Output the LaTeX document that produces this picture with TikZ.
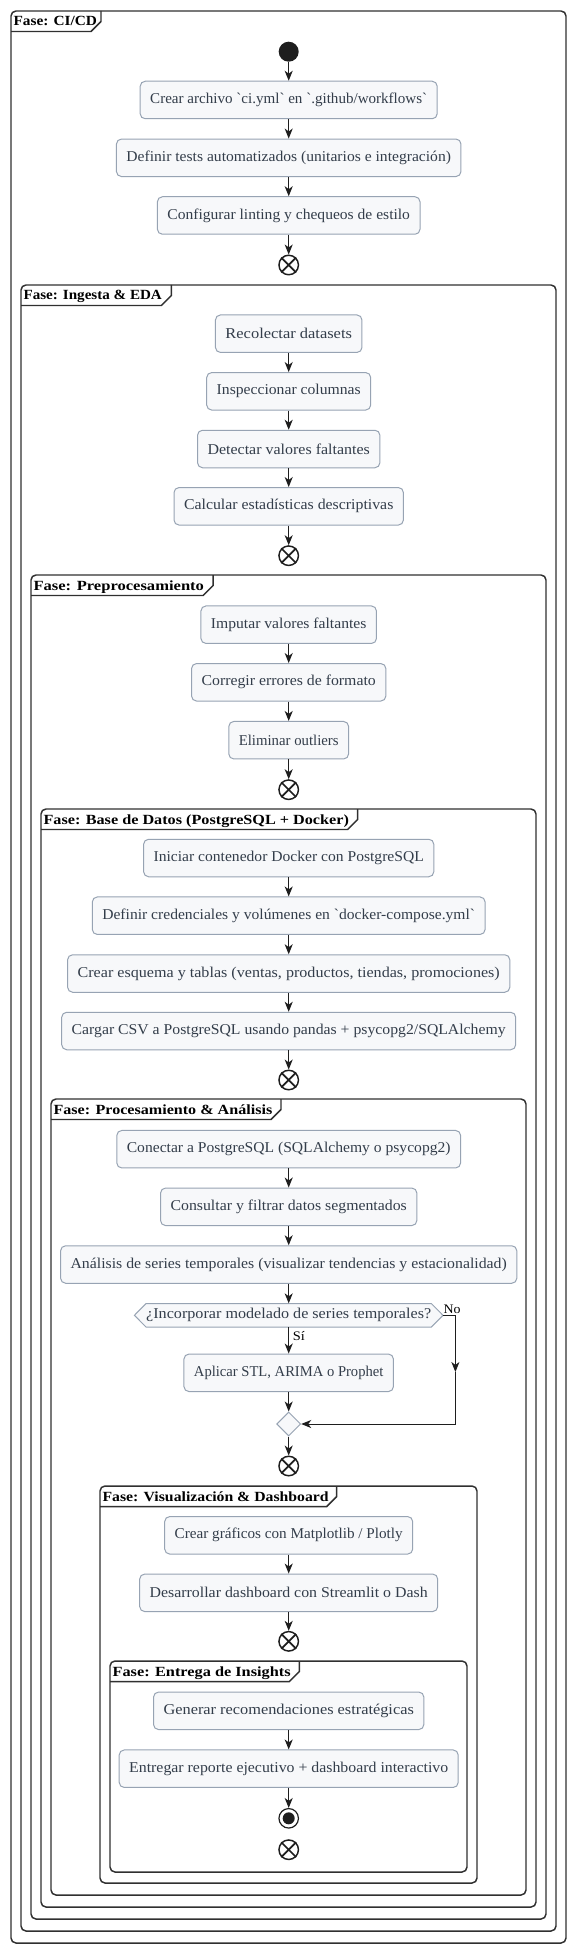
\documentclass[tikz,border=0pt]{standalone}
\usepackage{fontspec}
\setmainfont{Liberation Serif}
\usepackage{graphicx}
\usetikzlibrary{arrows.meta,shapes.geometric,calc}
\definecolor{boxfill}{HTML}{F7F8FA}
\definecolor{boxdraw}{HTML}{97A3B3}
\definecolor{txt}{HTML}{333D4A}
\definecolor{framec}{HTML}{303030}
\definecolor{ink}{HTML}{1E1E1E}
\newlength\fitlen
\newcommand\fitto[2]{\settowidth{\fitlen}{#2}\pgfmathsetmacro\fitfac{(#1)*0.75/\fitlen}\scalebox{\fitfac}[1]{#2}}
\newcommand\bq{\textasciigrave}
\tikzset{
  abox/.style={draw=boxdraw, fill=boxfill, rounded corners=3.75pt, line width=0.75pt,
    minimum height=37.5*0.75pt, inner xsep=7.5pt, inner ysep=0pt,
    font=\fontsize{11.25}{13}\selectfont, text=txt},
  flow/.style={draw=ink, line width=0.75pt, -{Stealth[length=7.5pt,width=6pt,inset=2.2pt]}},
  flowline/.style={draw=ink, line width=0.75pt},
  phaseframe/.style={draw=framec, line width=1.1pt, rounded corners=3.75pt, fill=white},
  tabline/.style={draw=framec, line width=1.1pt},
  ftitle/.style={anchor=base west, inner sep=0pt, font=\bfseries\fontsize{10.5}{12}\selectfont, text=black},
  xend/.style={circle, draw=ink, line width=1.1pt, fill=white, minimum size=19.5*0.75pt, inner sep=0pt},
  lbl/.style={inner sep=0pt, font=\fontsize{9.75}{11}\selectfont, text=black}
}
\newcommand\abox[4]{\node[abox, minimum width=#3*0.75pt] (#1) at (288.7,#2) {\fitto{#3-20}{#4}};}
\newcommand\xnode[2]{\node[xend] (#1) at (288.7,#2) {};
  \draw[ink, line width=1.3pt] (#1.45) -- (#1.225) (#1.135) -- (#1.315);}
\newcommand\phase[8]{%
  \draw[phaseframe] (#2,#3) rectangle (#4,#5);
  \draw[tabline] (#2,#3+20.5) -- (#6-10,#3+20.5) -- (#6,#3+10.5) -- (#6,#3);
  \node[ftitle] (#1) at (#2+2.3,#3+15) {\fitto{#7}{#8}};}
\begin{document}
\begin{tikzpicture}[x=0.75pt, y=-0.75pt]
\useasboundingbox[fill=white] (0,0) rectangle (577,1954);
% frames
\phase{t1}{11}{11}{566}{1943}{101}{83.4}{Fase: CI/CD}
\phase{t2}{21}{285}{556}{1931}{171.4}{138.3}{Fase: Ingesta \& EDA}
\phase{t3}{31}{575}{546}{1919}{213.1}{170.4}{Fase: Preprocesamiento}
\phase{t4}{41}{809}{536}{1907}{357.7}{305.4}{Fase: Base de Datos (PostgreSQL + Docker)}
\phase{t5}{51}{1099}{526}{1895}{281}{218.7}{Fase: Procesamiento \& Análisis}
\phase{t6}{100}{1486}{477}{1883}{336.7}{226.1}{Fase: Visualización \& Dashboard}
\phase{t7}{110}{1661}{467}{1872}{299.4}{178.1}{Fase: Entrega de Insights}
% CI/CD
\node[circle, fill=ink, minimum size=20*0.75pt, inner sep=0pt] (start) at (288.7,51.7) {};
\abox{b1}{100}{297}{Crear archivo \bq ci.yml\bq{} en \bq.github/workflows\bq}
\abox{b2}{157.8}{344.5}{Definir tests automatizados (unitarios e integración)}
\abox{b3}{215.5}{262.6}{Configurar linting y chequeos de estilo}
\xnode{x1}{265}
% Ingesta
\abox{b4}{333.7}{146.5}{Recolectar datasets}
\abox{b5}{391.3}{164}{Inspeccionar columnas}
\abox{b6}{449}{182.4}{Detectar valores faltantes}
\abox{b7}{506.3}{229.4}{Calcular estadísticas descriptivas}
\xnode{x2}{555.7}
% Preproc
\abox{b8}{624.7}{175.5}{Imputar valores faltantes}
\abox{b9}{682.3}{194.3}{Corregir errores de formato}
\abox{b10}{740.2}{119.8}{Eliminar outliers}
\xnode{x3}{789.7}
% BD
\abox{b11}{858}{290.2}{Iniciar contenedor Docker con PostgreSQL}
\abox{b12}{915.7}{392.8}{Definir credenciales y volúmenes en \bq docker-compose.yml\bq}
\abox{b13}{973.5}{442.2}{Crear esquema y tablas (ventas, productos, tiendas, promociones)}
\abox{b14}{1031}{454}{Cargar CSV a PostgreSQL usando pandas + psycopg2/SQLAlchemy}
\xnode{x4}{1080}
% Procesamiento
\abox{b15}{1149.2}{343.8}{Conectar a PostgreSQL (SQLAlchemy o psycopg2)}
\abox{b16}{1206.8}{256.3}{Consultar y filtrar datos segmentados}
\abox{b17}{1264.5}{456.2}{Análisis de series temporales (visualizar tendencias y estacionalidad)}
\draw[draw=boxdraw, fill=boxfill, line width=0.75pt]
  (134.4,1315.3) -- (146,1303.6) -- (431.4,1303.6) -- (443,1315.3) -- (431.4,1327) -- (146,1327) -- cycle;
\node[inner sep=0pt, minimum width=308.6*0.75pt, minimum height=23.4*0.75pt,
  font=\fontsize{11.25}{13}\selectfont, text=txt] (hex) at (288.7,1315.3)
  {\fitto{285}{¿Incorporar modelado de series temporales?}};
\abox{b18}{1372.8}{209.5}{Aplicar STL, ARIMA o Prophet}
\node[diamond, draw=boxdraw, fill=boxfill, minimum width=24*0.75pt, minimum height=24*0.75pt,
  inner sep=0pt, line width=0.75pt] (dia) at (288.7,1424) {};
\xnode{x5}{1466}
\node[lbl, anchor=south west] (nolab) at ($(hex.east)+(0,-1.5)$) {\fitto{17}{No}};
\node[lbl, anchor=north west] (silab) at ($(hex.south)+(4,3.5)$) {\fitto{12}{Sí}};
% Visualizacion
\abox{b19}{1535.3}{248}{Crear gráficos con Matplotlib / Plotly}
\abox{b20}{1592.8}{298}{Desarrollar dashboard con Streamlit o Dash}
\xnode{x6}{1641.3}
% Entrega
\abox{b21}{1710.8}{270.3}{Generar recomendaciones estratégicas}
\abox{b22}{1768.7}{339}{Entregar reporte ejecutivo + dashboard interactivo}
\node[circle, draw=ink, line width=0.9pt, fill=white, minimum size=19.5*0.75pt, inner sep=0pt] (stop) at (288.7,1818.3) {};
\node[circle, fill=ink, minimum size=12*0.75pt, inner sep=0pt] (stopdot) at (stop.center) {};
\xnode{x7}{1849.7}
% connectors
\draw[flow] (start) -- (b1);
\draw[flow] (b1) -- (b2);
\draw[flow] (b2) -- (b3);
\draw[flow] (b3) -- (x1);
\draw[flow] (b4) -- (b5);
\draw[flow] (b5) -- (b6);
\draw[flow] (b6) -- (b7);
\draw[flow] (b7) -- (x2);
\draw[flow] (b8) -- (b9);
\draw[flow] (b9) -- (b10);
\draw[flow] (b10) -- (x3);
\draw[flow] (b11) -- (b12);
\draw[flow] (b12) -- (b13);
\draw[flow] (b13) -- (b14);
\draw[flow] (b14) -- (x4);
\draw[flow] (b15) -- (b16);
\draw[flow] (b16) -- (b17);
\draw[flow] (b17) -- (hex);
\draw[flow] (hex) -- (b18);
\draw[flow] (b18) -- (dia);
\coordinate (n1) at (455.4,1315.3);
\coordinate (nm) at (455.4,1372);
\coordinate (n2) at (455.4,1424);
\draw[flow] (hex.east) -- (n1) -- (nm);
\draw[flow] (nm) -- (n2) -- (dia.east);
\draw[flow] (dia) -- (x5);
\draw[flow] (b19) -- (b20);
\draw[flow] (b20) -- (x6);
\draw[flow] (b21) -- (b22);
\draw[flow] (b22) -- (stop);
\end{tikzpicture}
\end{document}
